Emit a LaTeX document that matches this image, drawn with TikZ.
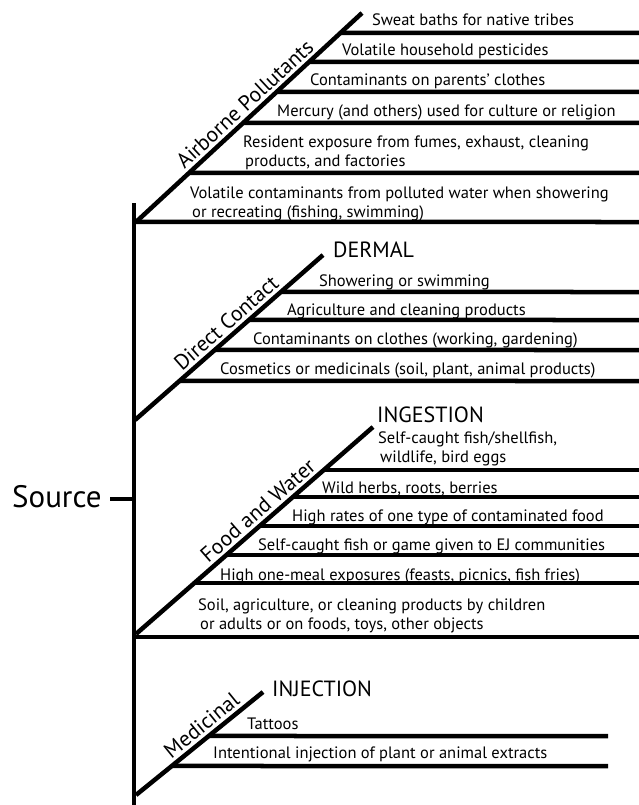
\documentclass[tikz,border=0pt]{standalone}
\usepackage{fontspec}
\setmainfont{PT Sans}
\usetikzlibrary{calc}

\begin{document}
\begin{tikzpicture}[x=1pt, y=-1pt,
	bar/.style={line width=4.5pt},
	item/.style={anchor=base west, inner sep=0pt, align=left, font=\fontsize{16.5}{19}\selectfont},
	route/.style={anchor=base west, inner sep=0pt, font=\fontsize{22}{26}\selectfont},
	category/.style={sloped, above, inner sep=3pt, font=\fontsize{21.5}{24}\selectfont}]

	\useasboundingbox (0,0) rectangle (639,805);

	% source
	\node[anchor=base west, inner sep=0pt, font=\fontsize{31}{36}\selectfont] (src) at (12,507) {Source};
	\coordinate (s0) at (134,203);
	\coordinate (s1) at (134,805);
	\coordinate (tick) at (110,499);
	\coordinate (stem) at (134,499);
	\draw[bar] (s0) -- (s1);
	\draw[bar] (tick) -- (stem);

	% airborne pollutants
	\coordinate (aBot) at (136,222);
	\coordinate (aTop) at (362,13);
	\draw[bar] (aBot) -- node[category, pos=0.52] (aLab) {Airborne Pollutants} (aTop);
	\foreach \y in {33,62,92,123,173,222}
		\draw[bar] (intersection of aBot--aTop and 0,\y--1,\y) -- (639,\y);
	\node[item] (a1) at (372,26) {Sweat baths for native tribes};
	\node[item] (a2) at (342,56) {Volatile household pesticides};
	\node[item] (a3) at (310,86) {Contaminants on parents’ clothes};
	\node[item] (a4) at (277,117) {Mercury (and others) used for culture or religion};
	\node[item] (a5) at (243,167) {Resident exposure from fumes, exhaust, cleaning\\\hspace{2pt}products, and factories};
	\node[item] (a6) at (190,217) {Volatile contaminants from polluted water when showering\\\hspace{2pt}or recreating (fishing, swimming)};

	% direct contact
	\coordinate (dBot) at (135,420);
	\coordinate (dTop) at (323,255);
	\draw[bar] (dBot) -- node[category, pos=0.53] (dLab) {Direct Contact} (dTop);
	\foreach \y in {292,320,350,381}
		\draw[bar] (intersection of dBot--dTop and 0,\y--1,\y) -- (639,\y);
	\node[route] (derm) at (333,257) {DERMAL};
	\node[item] (d1) at (319,286) {Showering or swimming};
	\node[item] (d2) at (287,315) {Agriculture and cleaning products};
	\node[item] (d3) at (253,344) {Contaminants on clothes (working, gardening)};
	\node[item] (d4) at (220,374) {Cosmetics or medicinals (soil, plant, animal products)};

	% food and water
	\coordinate (fBot) at (136,634);
	\coordinate (fTop) at (373,427);
	\draw[bar] (fBot) -- node[category, pos=0.55] (fLab) {Food and Water} (fTop);
	\foreach \y in {470,497,526,555,583,637}
		\draw[bar] (intersection of fBot--fTop and 0,\y--1,\y) -- (639,\y);
	\node[route] (ingest) at (377,422) {INGESTION};
	\node[item] (f1) at (378,462) {Self-caught fish/shellfish,\\\hspace{2pt}wildlife, bird eggs};
	\node[item] (f2) at (322,493) {Wild herbs, roots, berries};
	\node[item] (f3) at (292,521) {High rates of one type of contaminated food};
	\node[item] (f4) at (258,550) {Self-caught fish or game given to EJ communities};
	\node[item] (f5) at (220,580) {High one-meal exposures (feasts, picnics, fish fries)};
	\node[item] (f6) at (198,629) {Soil, agriculture, or cleaning products by children\\\hspace{2pt}or adults or on foods, toys, other objects};

	% medicinal
	\coordinate (mBot) at (136,795);
	\coordinate (mTop) at (263,692);
	\draw[bar] (mBot) -- node[category, pos=0.58] (mLab) {Medicinal} (mTop);
	\foreach \y in {736,766}
		\draw[bar] (intersection of mBot--mTop and 0,\y--1,\y) -- (608,\y);
	\node[route] (inject) at (272,696) {INJECTION};
	\node[item] (m1) at (247,729) {Tattoos};
	\node[item] (m2) at (213,758) {Intentional injection of plant or animal extracts};
\end{tikzpicture}
\end{document}
